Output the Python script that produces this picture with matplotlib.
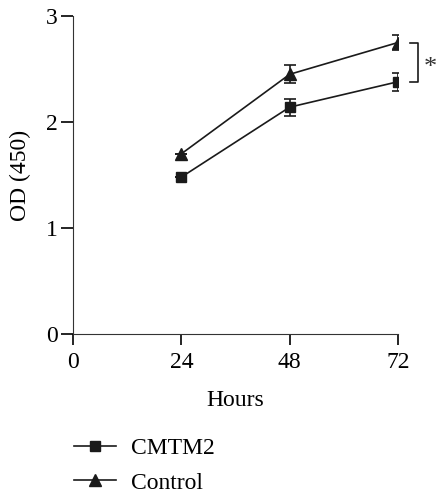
import matplotlib
matplotlib.use('Agg')
import matplotlib.pyplot as plt
from matplotlib.lines import Line2D

plt.rcParams['font.family'] = ['Liberation Serif', 'DejaVu Serif']

HOURS = [24, 48, 72]
CMTM2 = [1.48, 2.14, 2.38]
CMTM2_ERR = [0.0, 0.08, 0.085]
CONTROL = [1.70, 2.45, 2.75]
CONTROL_ERR = [0.0, 0.085, 0.075]
X_TICKS = [0, 24, 48, 72]
Y_TICKS = [0, 1, 2, 3]
INK = '#1a1a1a'

fig = plt.figure(figsize=(4.38, 5), dpi=100)
ax = fig.add_axes([0.1667, 0.332, 0.742, 0.636])

ax.errorbar(HOURS, CMTM2, yerr=CMTM2_ERR, color=INK, marker='s',
            markersize=7, linewidth=1.2, capsize=4, elinewidth=1.2,
            capthick=1.2)
ax.errorbar(HOURS, CONTROL, yerr=CONTROL_ERR, color=INK, marker='^',
            markersize=8.5, linewidth=1.2, capsize=4, elinewidth=1.2,
            capthick=1.2)

# significance bracket
bx = 76.4
ax.plot([bx - 1.8, bx, bx, bx - 1.8], [CONTROL[2], CONTROL[2], CMTM2[2], CMTM2[2]],
        color=INK, linewidth=1.2, clip_on=False)
ax.text(bx + 1.3, (CONTROL[2] + CMTM2[2]) / 2 - 0.06, '*', fontsize=19,
        ha='left', va='center', color='#333333')

ax.set_xlim(0, 72)
ax.set_ylim(0, 3)
ax.set_xticks(X_TICKS)
ax.set_yticks(Y_TICKS)
ax.spines['top'].set_visible(False)
ax.spines['right'].set_visible(False)
ax.spines['left'].set_color('#333333')
ax.spines['bottom'].set_color('#333333')
ax.tick_params(axis='y', direction='out', length=9, width=1.2, labelsize=17, pad=2)
ax.tick_params(axis='x', direction='out', length=8, width=1.2, labelsize=17, pad=5)
ax.set_xlabel('Hours', fontsize=17, labelpad=12)
ax.set_ylabel('OD (450)', fontsize=17, labelpad=11)

handles = [
    Line2D([], [], color=INK, marker='s', markersize=7, linewidth=1.2, label='CMTM2'),
    Line2D([], [], color=INK, marker='^', markersize=8.5, linewidth=1.2, label='Control'),
]
fig.legend(handles=handles, loc='upper left', bbox_to_anchor=(0.168, 0.125),
           frameon=False, fontsize=17, handlelength=1.8, handletextpad=0.65,
           borderpad=0, borderaxespad=0, labelspacing=0.55)

fig.savefig('out.png', dpi=100)
